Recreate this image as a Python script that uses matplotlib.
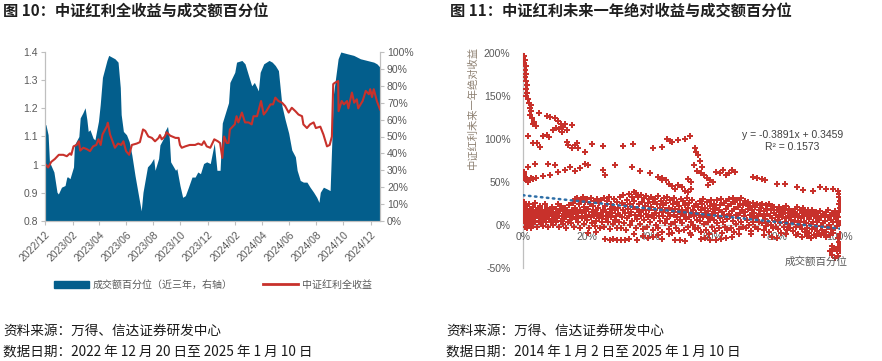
import matplotlib
matplotlib.use("Agg")
import matplotlib.dates as mdates
import matplotlib.pyplot as plt
import numpy as np
import pandas as pd
from matplotlib.lines import Line2D
from matplotlib.patches import Patch
from matplotlib.ticker import FuncFormatter, MultipleLocator

plt.rcParams["font.family"] = ["Liberation Sans", "Noto Sans CJK SC", "DejaVu Sans"]
plt.rcParams["axes.unicode_minus"] = False

# ---------------------------------------------------------------- chart 10 data
pct_dates = [
    "2022-12-20", "2022-12-22", "2022-12-27", "2022-12-30", "2023-01-09", "2023-01-16",
    "2023-01-19", "2023-01-26", "2023-02-03", "2023-02-07", "2023-02-10", "2023-02-14",
    "2023-02-22", "2023-02-24", "2023-03-06", "2023-03-09", "2023-03-15", "2023-03-20",
    "2023-03-24", "2023-03-27", "2023-03-31", "2023-04-07", "2023-04-11", "2023-04-19",
    "2023-04-23", "2023-04-28", "2023-05-08", "2023-05-12", "2023-05-19", "2023-05-26",
    "2023-06-02", "2023-06-07", "2023-06-09", "2023-06-14", "2023-06-21", "2023-06-27",
    "2023-07-03", "2023-07-10", "2023-07-18", "2023-07-24", "2023-07-28", "2023-08-07",
    "2023-08-14", "2023-08-21", "2023-08-24", "2023-09-01", "2023-09-04", "2023-09-12",
    "2023-09-15", "2023-09-21", "2023-09-25", "2023-09-28", "2023-10-09", "2023-10-12",
    "2023-10-19", "2023-10-25", "2023-10-31", "2023-11-07", "2023-11-15", "2023-11-22",
    "2023-11-28", "2023-12-04", "2023-12-11", "2023-12-18", "2023-12-26", "2024-01-04",
    "2024-01-10", "2024-01-17", "2024-01-22", "2024-01-29", "2024-02-05", "2024-02-08",
    "2024-02-19", "2024-02-23", "2024-03-06", "2024-03-13", "2024-03-21", "2024-03-28",
    "2024-04-03", "2024-04-12", "2024-04-16", "2024-04-24", "2024-05-06", "2024-05-13",
    "2024-05-20", "2024-05-27", "2024-06-04", "2024-06-11", "2024-06-19", "2024-06-26",
    "2024-07-04", "2024-07-08", "2024-07-15", "2024-07-22", "2024-07-30", "2024-08-06",
    "2024-08-14", "2024-08-21", "2024-08-26", "2024-08-29", "2024-09-05", "2024-09-13",
    "2024-09-20", "2024-09-24", "2024-09-27", "2024-10-08", "2024-10-14", "2024-10-28",
    "2024-11-12", "2024-11-27", "2024-12-12", "2024-12-27", "2025-01-03", "2025-01-10",
]
pct_values = [
    57, 57, 51, 35, 29, 17, 16, 20, 21, 26, 26, 25,
    32, 45, 50, 61, 64, 67, 60, 53, 54, 49, 48, 59,
    69, 85, 95, 98, 97, 96, 94, 79, 63, 53, 51, 47,
    39, 27, 15, 6, 17, 32, 34, 37, 30, 37, 45, 49,
    53, 56, 49, 35, 30, 31, 21, 14, 15, 20, 26, 26,
    29, 28, 34, 35, 34, 46, 30, 30, 58, 64, 70, 82,
    88, 94, 95, 93, 86, 80, 82, 77, 88, 93, 95, 94,
    92, 89, 68, 60, 52, 42, 38, 30, 24, 23, 23, 20,
    17, 14, 11, 17, 20, 19, 18, 48, 74, 96, 100, 99,
    98, 96, 95, 94, 93, 91,
]

ret_dates = [
    "2022-12-20", "2022-12-22", "2022-12-27", "2023-01-03", "2023-01-11", "2023-01-20",
    "2023-01-30", "2023-02-07", "2023-02-14", "2023-02-17", "2023-02-22", "2023-03-01",
    "2023-03-06", "2023-03-09", "2023-03-16", "2023-03-24", "2023-03-31", "2023-04-07",
    "2023-04-14", "2023-04-19", "2023-04-24", "2023-04-28", "2023-05-08", "2023-05-10",
    "2023-05-15", "2023-05-19", "2023-05-26", "2023-06-02", "2023-06-09", "2023-06-14",
    "2023-06-20", "2023-06-27", "2023-07-03", "2023-07-14", "2023-07-21", "2023-07-28",
    "2023-08-02", "2023-08-09", "2023-08-17", "2023-08-24", "2023-09-01", "2023-09-04",
    "2023-09-08", "2023-09-15", "2023-09-19", "2023-09-27", "2023-10-09", "2023-10-16",
    "2023-10-19", "2023-10-23", "2023-10-31", "2023-11-10", "2023-11-22", "2023-11-29",
    "2023-12-07", "2023-12-12", "2023-12-18", "2023-12-26", "2024-01-04", "2024-01-12",
    "2024-01-17", "2024-01-22", "2024-01-26", "2024-02-01", "2024-02-05", "2024-02-08",
    "2024-02-19", "2024-02-23", "2024-02-27", "2024-03-06", "2024-03-13", "2024-03-21",
    "2024-03-28", "2024-04-01", "2024-04-09", "2024-04-18", "2024-04-24", "2024-04-30",
    "2024-05-09", "2024-05-15", "2024-05-20", "2024-05-27", "2024-06-04", "2024-06-11",
    "2024-06-19", "2024-06-26", "2024-07-04", "2024-07-11", "2024-07-19", "2024-07-22",
    "2024-07-30", "2024-08-06", "2024-08-14", "2024-08-19", "2024-08-29", "2024-09-05",
    "2024-09-13", "2024-09-19", "2024-09-24", "2024-09-27", "2024-09-30", "2024-10-08",
    "2024-10-09", "2024-10-16", "2024-10-21", "2024-10-28", "2024-10-31", "2024-11-08",
    "2024-11-13", "2024-11-19", "2024-11-22", "2024-12-02", "2024-12-09", "2024-12-16",
    "2024-12-19", "2024-12-23", "2024-12-27", "2025-01-03", "2025-01-10",
]
ret_values = [
    1.000, 1.000, 0.990, 1.010, 1.020, 1.035, 1.035, 1.030, 1.040, 1.035, 1.065, 1.070,
    1.083, 1.050, 1.060, 1.055, 1.048, 1.065, 1.070, 1.090, 1.070, 1.107, 1.137, 1.149,
    1.107, 1.090, 1.060, 1.075, 1.070, 1.083, 1.048, 1.035, 1.070, 1.075, 1.080, 1.125,
    1.120, 1.100, 1.095, 1.083, 1.095, 1.105, 1.090, 1.100, 1.115, 1.103, 1.095, 1.095,
    1.070, 1.060, 1.065, 1.070, 1.070, 1.075, 1.070, 1.083, 1.065, 1.060, 1.090, 1.083,
    1.077, 1.024, 1.100, 1.077, 1.077, 1.125, 1.143, 1.172, 1.150, 1.185, 1.150, 1.150,
    1.143, 1.172, 1.172, 1.226, 1.178, 1.190, 1.214, 1.214, 1.238, 1.226, 1.220, 1.208,
    1.185, 1.202, 1.190, 1.178, 1.172, 1.143, 1.130, 1.143, 1.150, 1.130, 1.135, 1.107,
    1.065, 1.070, 1.100, 1.286, 1.290, 1.297, 1.190, 1.226, 1.214, 1.226, 1.200, 1.256,
    1.220, 1.232, 1.200, 1.226, 1.262, 1.250, 1.268, 1.240, 1.268, 1.226, 1.196,
]

# ---------------------------------------------------------------- chart 11 data
# (成交额百分位 %, 未来一年绝对收益 %)
band_low = [
    (0.2, 5), (0.3, 12), (0.4, 20), (0.5, -2), (0.6, 25), (0.7, 8), (0.8, 15), (0.9, 2),
    (1.0, 22), (1.1, 10), (1.2, 18), (1.3, -1), (1.5, 6), (1.6, 14), (1.8, 24), (2.0, 3),
    (2.1, 11), (2.3, 19), (2.5, 7), (2.6, -3), (2.8, 16), (3.0, 21), (3.1, 9), (3.3, 1),
    (3.5, 13), (3.7, 26), (3.9, 5), (4.0, 17), (4.2, 10), (4.4, -2), (4.6, 20), (4.7, 12),
    (4.9, 4), (0.3, 27), (1.4, -3),
    (5.1, 8), (5.3, 15), (5.5, 22), (5.6, 2), (5.8, 11), (6.0, 18), (6.2, -1), (6.4, 6),
    (6.6, 13), (6.8, 24), (7.0, 9), (7.2, 16), (7.4, 3), (7.6, 20), (7.8, 12), (8.0, -2),
    (8.2, 7), (8.4, 17), (8.6, 14), (8.8, 4), (9.0, 21), (9.2, 10), (9.4, 0), (9.6, 15),
    (9.8, 6),
    (10.1, 12), (10.3, 3), (10.5, 19), (10.7, 8), (10.9, 25), (11.1, 14), (11.3, -2),
    (11.5, 10), (11.7, 17), (11.9, 5), (12.1, 22), (12.3, 11), (12.5, 1), (12.7, 16),
    (12.9, 7), (13.1, 20), (13.3, 13), (13.5, -3), (13.7, 9), (13.9, 18), (14.1, 4),
    (14.3, 15), (14.5, 23), (14.7, 6), (14.9, 11),
    (15.1, 2), (15.3, 17), (15.5, 9), (15.7, 26), (15.9, 13), (16.1, -2), (16.3, 20),
    (16.5, 30), (16.7, 7), (16.9, 15), (17.1, 31), (17.3, 4), (17.5, 11), (17.7, 24),
    (17.9, 18), (18.1, -4), (18.3, 29), (18.5, 8), (18.7, 14), (18.9, 32), (19.1, 21),
    (19.3, 1), (19.5, 10), (19.7, 27), (19.9, 16),
    (20.1, 30), (20.3, 6), (20.5, 19), (20.7, 12), (20.9, -3), (21.1, 25), (21.3, 31),
    (21.5, 9), (21.7, 15), (21.9, 2), (22.1, 22), (22.3, 28), (22.5, 11), (22.7, -1),
    (22.9, 17), (23.1, 5), (23.3, 30), (23.5, 13), (23.7, 20), (23.9, 8), (24.1, 26),
    (24.3, -4), (24.5, 14), (24.7, 29), (24.9, 3),
    (25.1, 18), (25.3, 10), (25.5, 31), (25.7, -2), (25.9, 22), (26.1, 7), (26.3, 15),
    (26.5, 28), (26.7, 3), (26.9, 12), (27.1, 33), (27.3, 19), (27.5, -5), (27.7, 9),
    (27.9, 25), (28.1, 14), (28.3, 1), (28.5, 21), (28.7, 30), (28.9, 6), (29.1, 17),
    (29.3, 11), (29.5, -3), (29.7, 27), (29.9, 13),
    (30.1, 20), (30.3, 4), (30.5, 32), (30.7, 12), (30.9, -4), (31.1, 26), (31.3, 9),
    (31.5, 17), (31.7, 35), (31.9, 2), (32.1, 23), (32.3, 14), (32.5, -6), (32.7, 29),
    (32.9, 8), (33.1, 19), (33.3, 36), (33.5, 11), (33.7, 0), (33.9, 25), (34.1, 15),
    (34.3, 33), (34.5, 5), (34.7, 21), (34.9, 38),
    (35.1, 28), (35.3, 12), (35.5, 37), (35.7, -3), (35.9, 19), (36.1, 7), (36.3, 32),
    (36.5, 24), (36.7, 15), (36.9, 1), (37.1, 35), (37.3, 10), (37.5, 27), (37.7, -5),
    (37.9, 18), (38.1, 31), (38.3, 6), (38.5, 22), (38.7, 13), (38.9, 34), (39.1, -2),
    (39.3, 26), (39.5, 9), (39.7, 17), (39.9, 30),
    (40.1, 3), (40.3, 21), (40.5, 33), (40.7, 12), (40.9, -6), (41.1, 27), (41.3, 8),
    (41.5, 18), (41.7, 30), (41.9, 0), (42.1, 14), (42.3, 24), (42.5, -4), (42.7, 34),
    (42.9, 10), (43.1, 20), (43.3, 5), (43.5, 28), (43.7, 15), (43.9, -8), (44.1, 23),
    (44.3, 11), (44.5, 31), (44.7, 2), (44.9, 17),
    (45.1, 26), (45.3, 7), (45.5, 33), (45.7, 14), (45.9, -5), (46.1, 20), (46.3, 10),
    (46.5, 29), (46.7, 1), (46.9, 17), (47.1, -9), (47.3, 24), (47.5, 12), (47.7, 31),
    (47.9, 4), (48.1, 19), (48.3, -3), (48.5, 27), (48.7, 9), (48.9, 15), (49.1, 22),
    (49.3, -7), (49.5, 6), (49.7, 30), (49.9, 13),
]
band_high = [
    (50.1, 18), (50.3, 2), (50.5, 28), (50.7, 11), (50.9, -6), (51.1, 23), (51.3, 7),
    (51.5, 15), (51.7, 31), (51.9, -2), (52.1, 20), (52.3, 9), (52.5, 26), (52.7, -9),
    (52.9, 13), (53.1, 4), (53.3, 29), (53.5, 17), (53.7, 0), (53.9, 22), (54.1, 10),
    (54.3, -5), (54.5, 25), (54.7, 14), (54.9, 6),
    (55.1, 21), (55.3, -3), (55.5, 12), (55.7, 28), (55.9, 5), (56.1, 17), (56.3, -8),
    (56.5, 24), (56.7, 9), (56.9, 30), (57.1, 1), (57.3, 14), (57.5, 20), (57.7, -6),
    (57.9, 11), (58.1, 27), (58.3, 3), (58.5, 16), (58.7, -10), (58.9, 22), (59.1, 8),
    (59.3, 29), (59.5, 13), (59.7, -2), (59.9, 19),
    (60.1, 6), (60.3, 25), (60.5, 14), (60.7, -7), (60.9, 20), (61.1, 2), (61.3, 29),
    (61.5, 11), (61.7, 17), (61.9, -4), (62.1, 23), (62.3, 8), (62.5, 30), (62.7, -9),
    (62.9, 15), (63.1, 4), (63.3, 26), (63.5, 12), (63.7, -2), (63.9, 19), (64.1, 28),
    (64.3, 7), (64.5, -6), (64.7, 22), (64.9, 13),
    (65.1, 30), (65.3, 10), (65.5, -3), (65.7, 24), (65.9, 16), (66.1, 31), (66.3, 5),
    (66.5, 19), (66.7, -8), (66.9, 27), (67.1, 12), (67.3, 1), (67.5, 29), (67.7, 21),
    (67.9, 8), (68.1, -5), (68.3, 25), (68.5, 14), (68.7, 31), (68.9, 3), (69.1, 18),
    (69.3, -2), (69.5, 23), (69.7, 10), (69.9, 28),
    (70.1, 15), (70.3, -4), (70.5, 24), (70.7, 6), (70.9, 19), (71.1, 27), (71.3, 0),
    (71.5, 12), (71.7, 22), (71.9, -7), (72.1, 9), (72.3, 17), (72.5, 26), (72.7, 3),
    (72.9, 14), (73.1, -2), (73.3, 21), (73.5, 8), (73.7, 25), (73.9, 11), (74.1, -5),
    (74.3, 18), (74.5, 4), (74.7, 23), (74.9, 13),
    (75.1, 20), (75.3, 2), (75.5, 25), (75.7, 10), (75.9, -6), (76.1, 16), (76.3, 7),
    (76.5, 23), (76.7, -1), (76.9, 13), (77.1, 19), (77.3, 4), (77.5, -8), (77.7, 24),
    (77.9, 11), (78.1, 17), (78.3, 0), (78.5, 22), (78.7, 8), (78.9, -4), (79.1, 14),
    (79.3, 21), (79.5, 5), (79.7, 12), (79.9, -2),
    (80.1, 18), (80.3, 6), (80.5, -5), (80.7, 21), (80.9, 11), (81.1, 2), (81.3, 15),
    (81.5, -9), (81.7, 9), (81.9, 20), (82.1, 13), (82.3, -2), (82.5, 17), (82.7, 4),
    (82.9, 22), (83.1, 8), (83.3, -6), (83.5, 14), (83.7, 1), (83.9, 19), (84.1, 10),
    (84.3, -3), (84.5, 16), (84.7, 6), (84.9, 12),
    (85.1, -7), (85.3, 15), (85.5, 3), (85.7, 19), (85.9, 9), (86.1, -2), (86.3, 13),
    (86.5, 21), (86.7, 5), (86.9, -10), (87.1, 11), (87.3, 17), (87.5, 0), (87.7, 8),
    (87.9, 14), (88.1, -5), (88.3, 20), (88.5, 4), (88.7, 10), (88.9, -8), (89.1, 16),
    (89.3, 2), (89.5, 12), (89.7, -3), (89.9, 18),
    (90.1, 7), (90.3, -9), (90.5, 14), (90.7, 1), (90.9, 10), (91.1, -5), (91.3, 17),
    (91.5, 4), (91.7, -12), (91.9, 12), (92.1, -2), (92.3, 8), (92.5, 15), (92.7, -7),
    (92.9, 3), (93.1, 11), (93.3, -10), (93.5, 6), (93.7, 16), (93.9, -1), (94.1, 9),
    (94.3, -6), (94.5, 13), (94.7, 2), (94.9, -11),
    (95.1, 12), (95.3, 5), (95.5, -8), (95.7, 15), (95.9, -2), (96.1, 9), (96.3, 18),
    (96.5, 0), (96.7, -12), (96.9, 11), (97.1, 6), (97.3, -5), (97.5, 14), (97.7, 3),
    (97.9, -9), (98.1, 10), (98.3, 16), (98.5, -3), (98.7, 7), (98.9, 12), (99.1, -1),
    (99.3, 4), (99.5, 9), (99.7, 15), (99.9, 2),
]
below_pts = [
    (26.0, -16), (27.5, -17), (28.5, -16), (29.8, -17), (31.0, -17), (32.2, -17),
    (33.5, -16), (36.0, -17), (38.0, -13), (39.5, -15), (41.0, -14), (42.5, -12),
    (44.0, -16), (48.0, -18), (49.5, -17), (51.0, -19), (56.0, -16), (57.5, -15),
    (59.0, -17), (61.0, -18), (62.5, -16), (64.0, -15), (66.0, -14), (78.5, -14),
    (80.0, -15), (86.0, -12), (88.0, -14), (89.5, -13), (91.0, -15), (92.5, -13),
    (94.0, -12), (95.5, -14), (20.5, -9), (23.0, -8), (35.0, -10), (46.0, -11),
    (53.0, -12), (68.0, -11), (72.0, -10), (76.0, -12), (83.0, -11),
    (99.5, -15), (99.8, -20), (99.5, -25), (99.0, -30), (98.2, -28), (97.5, -24),
    (97.0, -30), (97.5, -35), (98.5, -38), (99.5, -36), (100.0, -30), (100.0, -22),
    (100.0, -10),
]
upper_pts = [
    (0.3, 196), (0.5, 192), (0.4, 188), (0.8, 185), (0.6, 180), (1.0, 176), (0.7, 172),
    (0.9, 168), (1.2, 163), (1.0, 158), (1.4, 154), (1.1, 150), (1.6, 146), (2.0, 142),
    (2.4, 140), (2.2, 136), (2.6, 132), (2.3, 128), (2.9, 124), (3.5, 120), (3.0, 117),
    (4.2, 115), (5.0, 130), (7.5, 127), (8.6, 126), (10.2, 125), (11.0, 121), (12.0, 118),
    (10.5, 113), (11.5, 112), (12.6, 114), (13.3, 117), (14.0, 110), (15.5, 116),
    (9.6, 110), (12.2, 108),
    (1.7, 103), (3.0, 95), (4.3, 95), (6.4, 104), (7.5, 105), (8.2, 102), (5.5, 91),
    (13.8, 97), (14.3, 93), (15.4, 89), (16.4, 93), (16.9, 95), (17.5, 89), (19.6, 85),
    (21.7, 94), (25.3, 92), (31.6, 92), (34.8, 94), (41.1, 89), (43.7, 91), (45.3, 100),
    (46.3, 98), (46.9, 96), (49.0, 99), (51.0, 100), (52.7, 104), (54.2, 89), (54.7, 85),
    (55.3, 81), (55.8, 74), (56.4, 67), (53.8, 70),
    (44.0, 55), (45.0, 52), (46.0, 48), (47.0, 45), (48.0, 42), (49.0, 47), (50.0, 44),
    (51.0, 40), (52.0, 38), (53.0, 42), (52.2, 53), (53.0, 50),
    (55.0, 63), (56.0, 60), (57.0, 58), (58.0, 55), (59.0, 52), (58.5, 47), (60.0, 50),
    (61.0, 62), (62.0, 60), (63.0, 64), (64.0, 58), (66.0, 64), (67.0, 62), (65.0, 60),
    (72.6, 56), (73.7, 55), (75.3, 54), (76.3, 52), (80.0, 48), (82.6, 48), (86.3, 44),
    (88.4, 41), (91.5, 40), (93.6, 44), (95.7, 42), (97.8, 42), (99.4, 40),
    (99.6, 36), (99.8, 32), (100.0, 28), (99.7, 24), (99.9, 20),
    (0.2, 62), (0.4, 58), (0.7, 54), (1.0, 52), (1.5, 50), (1.7, 52), (0.5, 56), (0.3, 60),
    (3.3, 54), (1.7, 68), (3.8, 71), (6.4, 57), (8.0, 71), (8.5, 58), (10.0, 70),
    (11.1, 62), (13.2, 64), (14.8, 68), (16.4, 63), (18.0, 66), (19.6, 71), (20.6, 70),
    (25.3, 64), (25.9, 58), (29.0, 70), (34.3, 68), (36.9, 63), (40.0, 60), (42.6, 56),
    (43.7, 52), (2.5, 55), (4.0, 55),
]
trend_slope = -0.3891
trend_intercept = 0.3459

# ---------------------------------------------------------------- styling
BLUE = "#035E8C"
RED = "#C8312B"
GREY_TXT = "#595959"
AXIS = "#BFBFBF"

W, H = 882, 361
fig = plt.figure(figsize=(W / 100, H / 100), dpi=100)


def px(x, y):
    """figure fraction from pixel position (top-left origin)."""
    return x / W, 1 - y / H


# ---------------------------------------------------------------- chart 10
ax = fig.add_axes([45 / W, 1 - 221 / H, 335 / W, 169 / H])
ax2 = ax.twinx()
ax.set_zorder(ax2.get_zorder() + 1)
ax.patch.set_visible(False)

pdates = pd.to_datetime(pct_dates)
rdates = pd.to_datetime(ret_dates)
ax2.fill_between(pdates, 0, np.array(pct_values) / 100, color=BLUE, lw=0)
ax.plot(rdates, ret_values, color=RED, lw=1.5)

ax.set_ylim(0.8, 1.4)
ax.yaxis.set_major_locator(MultipleLocator(0.1))
ax.yaxis.set_major_formatter(FuncFormatter(lambda v, _: f"{v:g}"))
ax2.set_ylim(0, 1)
ax2.yaxis.set_major_locator(MultipleLocator(0.1))
ax2.yaxis.set_major_formatter(FuncFormatter(lambda v, _: f"{v * 100:.0f}%"))

ax.set_xlim(pd.Timestamp("2022-12-20"), pd.Timestamp("2025-01-10"))
ax.xaxis.set_major_locator(mdates.MonthLocator(bymonth=[2, 4, 6, 8, 10, 12], bymonthday=20))
ax.xaxis.set_major_formatter(mdates.DateFormatter("%Y/%m"))
for lab in ax.get_xticklabels():
    lab.set_rotation(45)
    lab.set_ha("right")
    lab.set_rotation_mode("anchor")

for a in (ax, ax2):
    a.spines["top"].set_visible(False)
    for s in ("left", "right", "bottom"):
        a.spines[s].set_color(AXIS)
        a.spines[s].set_linewidth(0.8)
    a.tick_params(colors=AXIS, labelcolor=GREY_TXT, labelsize=7.5, length=3, width=0.8, pad=2)
ax.tick_params(axis="x", pad=3)

fig.legend(
    handles=[
        Patch(facecolor=BLUE, edgecolor=BLUE, label="成交额百分位（近三年，右轴）"),
        Line2D([0], [0], color=RED, lw=2, label="中证红利全收益"),
    ],
    loc="center", bbox_to_anchor=px(213, 285), ncol=2, frameon=False,
    fontsize=7.2, labelcolor=GREY_TXT, handlelength=3.5, handleheight=0.8,
    handletextpad=0.4, columnspacing=3.0,
)

# ---------------------------------------------------------------- chart 11
bx = fig.add_axes([523 / W, 1 - 268 / H, 317 / W, 215 / H])
pts = band_low + band_high + below_pts + upper_pts
sx = [p[0] for p in pts]
sy = [p[1] for p in pts]
bx.scatter(sx, sy, marker="P", s=13, color=RED, linewidths=0, zorder=3)

tx = np.array([0, 100])
bx.plot(tx, (trend_intercept + trend_slope * tx / 100) * 100, color="#2E6FA7",
        lw=1.8, ls=(0, (0.6, 1.8)), dash_capstyle="round", zorder=4)

bx.set_xlim(0, 100)
bx.set_ylim(-50, 200)
bx.xaxis.set_major_locator(MultipleLocator(20))
bx.yaxis.set_major_locator(MultipleLocator(50))
bx.xaxis.set_major_formatter(FuncFormatter(lambda v, _: f"{v:.0f}%"))
bx.yaxis.set_major_formatter(FuncFormatter(lambda v, _: f"{v:.0f}%"))
bx.spines["bottom"].set_position(("data", 0))
bx.spines["top"].set_visible(False)
bx.spines["right"].set_visible(False)
for s in ("left", "bottom"):
    bx.spines[s].set_color(AXIS)
    bx.spines[s].set_linewidth(0.9)
    bx.spines[s].set_zorder(1)
bx.tick_params(length=0, labelcolor=GREY_TXT, labelsize=7.5)
bx.tick_params(axis="y", pad=9)
bx.tick_params(axis="x", pad=5)
bx.patch.set_visible(False)

bx.text(0.85, 0.59, "y = -0.3891x + 0.3459\nR² = 0.1573", transform=bx.transAxes,
        ha="center", va="center", fontsize=7.5, color="#404040", linespacing=1.2)

fig.text(*px(848, 262), "成交额百分位", ha="right", va="center", fontsize=7.6, color=GREY_TXT)
fig.text(*px(473, 108), "中证红利未来一年绝对收益", ha="center", va="center", rotation=90,
         fontsize=7.4, color="#8C7F70")

# ---------------------------------------------------------------- titles and notes
title_font = dict(family=["Noto Sans CJK SC"], fontsize=11, fontweight="bold", color="#1F1F1F",
                  va="center", ha="left")
fig.text(*px(3, 12), "图 10：中证红利全收益与成交额百分位", **title_font)
fig.text(*px(450, 12), "图 11：中证红利未来一年绝对收益与成交额百分位", **title_font)

note_font = dict(family=["Noto Sans CJK SC"], fontsize=9.8, color="#1A1A1A", va="center", ha="left")
fig.text(*px(3, 331), "资料来源：万得、信达证券研发中心", **note_font)
fig.text(*px(3, 352), "数据日期：2022 年 12 月 20 日至 2025 年 1 月 10 日", **note_font)
fig.text(*px(446, 331), "资料来源：万得、信达证券研发中心", **note_font)
fig.text(*px(446, 352), "数据日期：2014 年 1 月 2 日至 2025 年 1 月 10 日", **note_font)

fig.savefig("out.png", dpi=100)
